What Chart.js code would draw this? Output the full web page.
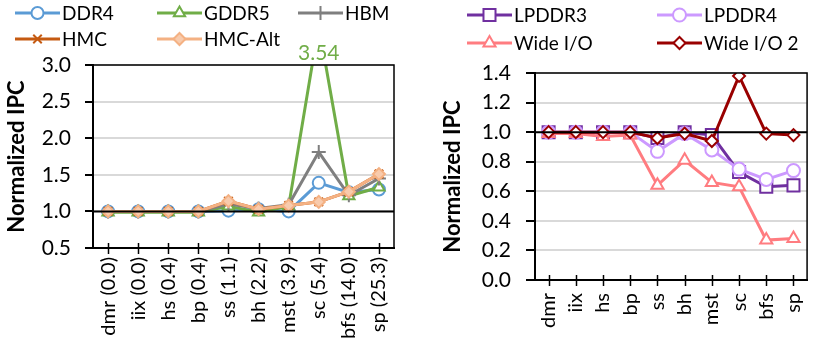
<!DOCTYPE html>
<html>
<head>
<meta charset="utf-8">
<script src="https://cdn.jsdelivr.net/npm/chart.js@4/dist/chart.umd.min.js"></script>
<style>
  body { margin: 0; background: #fff; }
  #wrap-left { position: absolute; left: 0; top: 0; width: 420px; height: 353px; }
  #wrap-right { position: absolute; left: 420px; top: 0; width: 411px; height: 353px; }
</style>
</head>
<body>
<div id="wrap-left"><canvas id="grafico-izq" width="420" height="353"></canvas></div>
<div id="wrap-right"><canvas id="grafico-der" width="411" height="353"></canvas></div>
<script>
// Datos del gráfico izquierdo
const categoriasIzq = ['dmr (0.0)', 'iix (0.0)', 'hs (0.4)', 'bp (0.4)', 'ss (1.1)', 'bh (2.2)', 'mst (3.9)', 'sc (5.4)', 'bfs (14.0)', 'sp (25.3)'];
const ddr4   = [1.00, 1.00, 1.00, 1.00, 1.01, 1.03, 1.00, 1.39, 1.26, 1.30];
const gddr5  = [0.99, 0.99, 0.99, 0.99, 1.07, 0.99, 1.07, 3.54, 1.21, 1.33];
const hbm    = [1.00, 1.00, 1.00, 1.00, 1.10, 1.04, 1.09, 1.81, 1.22, 1.45];
const hmc    = [1.00, 1.00, 1.00, 1.00, 1.14, 1.03, 1.08, 1.13, 1.27, 1.51];
const hmcAlt = [1.00, 1.00, 1.00, 1.00, 1.14, 1.03, 1.08, 1.13, 1.27, 1.51];
const ticksIzq = [0.5, 1.0, 1.5, 2.0, 2.5, 3.0];

// Datos del gráfico derecho
const categoriasDer = ['dmr', 'iix', 'hs', 'bp', 'ss', 'bh', 'mst', 'sc', 'bfs', 'sp'];
const lpddr3  = [1.00, 1.00, 1.00, 1.00, 0.96, 1.00, 0.98, 0.73, 0.63, 0.64];
const lpddr4  = [1.00, 1.00, 1.00, 1.00, 0.87, 0.99, 0.88, 0.75, 0.68, 0.74];
const wideIO  = [0.99, 0.99, 0.97, 0.98, 0.64, 0.81, 0.66, 0.63, 0.27, 0.28];
const wideIO2 = [1.00, 1.00, 1.00, 1.00, 0.96, 0.99, 0.94, 1.38, 0.99, 0.98];
const ticksDer = [0.0, 0.2, 0.4, 0.6, 0.8, 1.0, 1.2, 1.4];

const FUENTE = 'Lato, "Open Sans", sans-serif';
Chart.defaults.color = '#000';
Chart.defaults.font.family = FUENTE;

function serie(label, data, color, estilo, radio, relleno, orden) {
    return {
        label: label,
        data: data,
        borderColor: color,
        backgroundColor: relleno,
        pointBackgroundColor: relleno,
        pointBorderColor: color,
        pointStyle: estilo,
        pointRadius: radio,
        pointBorderWidth: 2,
        borderWidth: 3,
        tension: 0,
        clip: 0,
        order: orden
    };
}

function dibujarMarcador(ctx, ds, x, y) {
    ctx.save();
    ctx.fillStyle = ds.pointBackgroundColor;
    ctx.strokeStyle = ds.pointBorderColor;
    ctx.lineWidth = ds.pointBorderWidth;
    Chart.helpers.drawPoint(ctx, { pointStyle: ds.pointStyle, radius: ds.pointRadius, rotation: 0, borderWidth: ds.pointBorderWidth }, x, y);
    ctx.restore();
}

// Leyenda en rejilla (columnas alineadas como en Excel)
const leyendaRejilla = {
    id: 'leyendaRejilla',
    afterDraw(chart, args, opts) {
        const ctx = chart.ctx;
        chart.data.datasets.forEach((ds, i) => {
            const x = opts.cols[i % opts.porFila];
            const y = opts.filas[Math.floor(i / opts.porFila)];
            ctx.save();
            ctx.strokeStyle = ds.borderColor;
            ctx.lineWidth = 3;
            ctx.beginPath();
            ctx.moveTo(x, y);
            ctx.lineTo(x + 45, y);
            ctx.stroke();
            ctx.restore();
            dibujarMarcador(ctx, ds, x + 22.5, y);
            ctx.save();
            ctx.fillStyle = '#000';
            ctx.font = '19px ' + FUENTE;
            ctx.textBaseline = 'middle';
            ctx.textAlign = 'left';
            ctx.fillText(ds.label, x + 47, y + 1);
            ctx.restore();
        });
    }
};

// Marco del área, línea en 1.0 y marcas que cruzan el eje X
const marcoYLinea = {
    id: 'marcoYLinea',
    afterDatasetsDraw(chart) {
        const ctx = chart.ctx;
        const a = chart.chartArea;
        const yS = chart.scales.y;
        const xS = chart.scales.x;
        ctx.save();
        ctx.strokeStyle = '#000';
        ctx.lineWidth = 2;
        const y1 = yS.getPixelForValue(1.0);
        ctx.beginPath();
        ctx.moveTo(a.left, y1);
        ctx.lineTo(a.right, y1);
        ctx.stroke();
        ctx.lineWidth = 1.5;
        ctx.strokeRect(a.left, a.top, a.right - a.left, a.bottom - a.top);
        ctx.lineWidth = 1.5;
        xS.ticks.forEach((t, i) => {
            const px = Math.round(xS.getPixelForTick(i)) + 0.5;
            ctx.beginPath();
            ctx.moveTo(px, a.bottom - 5);
            ctx.lineTo(px, a.bottom + 6);
            ctx.stroke();
        });
        ctx.restore();
    }
};

// Etiqueta del valor recortado (fuera de escala)
const valorRecortado = {
    id: 'valorRecortado',
    afterDraw(chart, args, opts) {
        if (!opts.activo) return;
        const ctx = chart.ctx;
        const yS = chart.scales.y;
        const xS = chart.scales.x;
        chart.data.datasets.forEach(ds => {
            ds.data.forEach((v, i) => {
                if (v > yS.max) {
                    ctx.save();
                    ctx.fillStyle = ds.borderColor;
                    ctx.font = '21px ' + FUENTE;
                    ctx.textAlign = 'center';
                    ctx.textBaseline = 'alphabetic';
                    ctx.fillText(v.toFixed(2), xS.getPixelForValue(i), chart.chartArea.top - 5);
                    ctx.restore();
                }
            });
        });
    }
};

function opcionesEjes(cfg) {
    return {
        x: {
            offset: true,
            grid: { display: false, drawTicks: false, offset: false },
            border: { display: true, color: '#000', width: 2 },
            ticks: {
                autoSkip: false, maxRotation: 90, minRotation: 90,
                padding: cfg.padX, font: { size: 20 }, color: '#000'
            },
            afterFit(scale) { scale.height = cfg.altoX; }
        },
        y: {
            min: cfg.min, max: cfg.max,
            afterBuildTicks(scale) { scale.ticks = cfg.ticks.map(v => ({ value: v })); },
            grid: { color: '#d9d9d9', lineWidth: 2, tickColor: '#000', tickLength: cfg.tickY, drawTicks: true },
            border: { display: true, color: '#000', width: 2 },
            ticks: {
                padding: cfg.padY, font: { size: 21 }, color: '#000',
                callback: v => Number(v).toFixed(1)
            },
            title: {
                display: true, text: 'Normalized IPC', color: '#000',
                font: { size: 22, weight: 'bold' },
                padding: { top: cfg.padTitulo, bottom: 0 }
            },
            afterFit(scale) { scale.width = cfg.anchoY; }
        }
    };
}

new Chart(document.getElementById('grafico-izq'), {
    type: 'line',
    data: {
        labels: categoriasIzq,
        datasets: [
            serie('DDR4', ddr4, '#5B9BD5', 'circle', 6, '#ffffff', 5),
            serie('GDDR5', gddr5, '#70AD47', 'triangle', 6.5, '#ffffff', 4),
            serie('HBM', hbm, '#7F7F7F', 'cross', 7, '#7F7F7F', 3),
            serie('HMC', hmc, '#C55A11', 'crossRot', 6, '#C55A11', 2),
            serie('HMC-Alt', hmcAlt, '#F4B183', 'rectRot', 6, '#F8CBAD', 1)
        ]
    },
    options: {
        responsive: false,
        animation: false,
        layout: { padding: { top: 65, right: 26, left: 0, bottom: 0 } },
        scales: opcionesEjes({ min: 0.5, max: 3.0, ticks: ticksIzq, padX: 9, altoX: 105, tickY: 8, padY: 14, padTitulo: 4, anchoY: 93 }),
        plugins: {
            legend: { display: false },
            tooltip: { enabled: false },
            leyendaRejilla: { cols: [15, 157, 298], filas: [13, 39], porFila: 3 },
            valorRecortado: { activo: true }
        }
    },
    plugins: [marcoYLinea, leyendaRejilla, valorRecortado]
});

new Chart(document.getElementById('grafico-der'), {
    type: 'line',
    data: {
        labels: categoriasDer,
        datasets: [
            serie('LPDDR3', lpddr3, '#7030A0', 'rect', 8.5, '#ffffff', 4),
            serie('LPDDR4', lpddr4, '#CC99FF', 'circle', 6.5, '#ffffff', 3),
            serie('Wide I/O', wideIO, '#FF7C80', 'triangle', 7, '#ffffff', 2),
            serie('Wide I/O 2', wideIO2, '#990000', 'rectRot', 6, '#ffffff', 1)
        ]
    },
    options: {
        responsive: false,
        animation: false,
        layout: { padding: { top: 73, right: 8, left: 0, bottom: 0 } },
        scales: opcionesEjes({ min: 0, max: 1.4, ticks: ticksDer, padX: 13, altoX: 73, tickY: 9, padY: 15, padTitulo: 20, anchoY: 115 }),
        plugins: {
            legend: { display: false },
            tooltip: { enabled: false },
            leyendaRejilla: { cols: [47, 237], filas: [15, 43], porFila: 2 },
            valorRecortado: { activo: false }
        }
    },
    plugins: [marcoYLinea, leyendaRejilla, valorRecortado]
});
</script>
</body>
</html>
